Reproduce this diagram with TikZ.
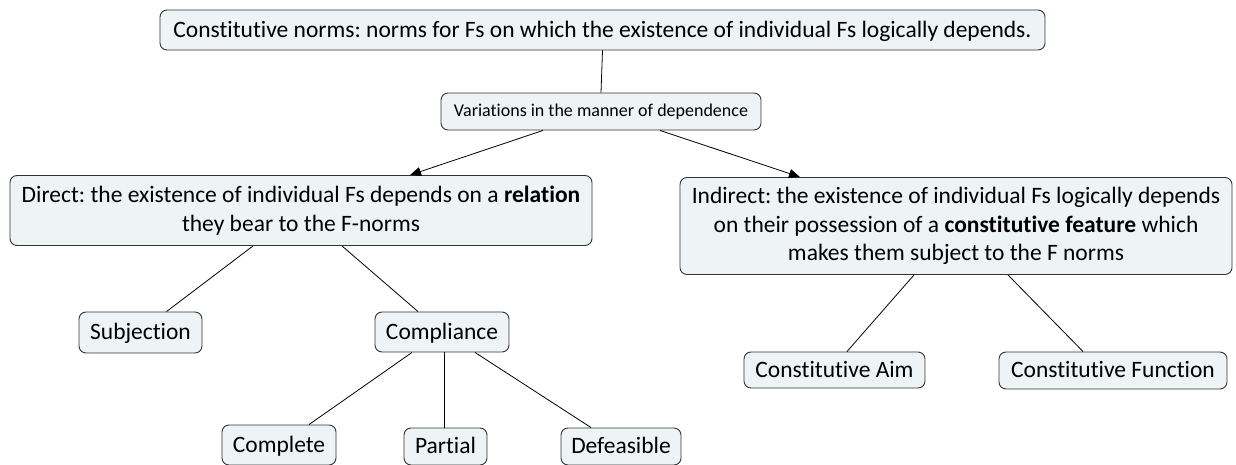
\documentclass[tikz,border=0pt]{standalone}
\usepackage{fontspec}
\setmainfont{Carlito}[RawFeature={-liga}]
\frenchspacing
\usetikzlibrary{calc,arrows.meta}
\definecolor{boxfill}{HTML}{EEF3F5}
\definecolor{boxline}{HTML}{333333}
\tikzset{
  box/.style={draw=boxline, fill=boxfill, rounded corners=7pt, line width=0.9pt, align=center, inner sep=0pt, font=\fontsize{23.5}{28.5}\selectfont},
  one/.style={text height=17.6pt, text depth=3pt},
  small/.style={font=\fontsize{18}{21}\selectfont, text height=13.5pt, text depth=3.5pt},
  link/.style={draw=black, line width=0.8pt},
  arr/.style={link, -{Triangle[length=11pt,width=9pt]}},
}
\begin{document}
\frenchspacing
\begin{tikzpicture}[x=1pt,y=-1pt]
\useasboundingbox (0,0) rectangle (1236,465);
\node[box, one, minimum width=885, minimum height=40] (top) at (602.5,30) {Constitutive norms: norms for Fs on which the existence of individual Fs logically depends.};
\node[box, small, minimum width=320, minimum height=37] (var) at (601,111.5) {Variations in the manner of dependence};
\node[box, minimum width=582, minimum height=70] (dir) at (301,210.5) {Direct: the existence of individual Fs depends on a \textbf{relation}\\ they bear to the F-norms};
\node[box, minimum width=552, minimum height=97] (ind) at (956,226) {Indirect: the existence of individual Fs logically depends\\ on their possession of a \textbf{constitutive feature} which\\ makes them subject to the F norms};
\node[box, one, minimum width=123, minimum height=41] (subj) at (140.5,332.5) {Subjection};
\node[box, one, minimum width=134, minimum height=40] (comp) at (442,332) {Compliance};
\node[box, one, minimum width=114, minimum height=40] (cplt) at (279,445) {Complete};
\node[box, one, minimum width=83, minimum height=37] (part) at (445.5,446.5) {Partial};
\node[box, one, minimum width=120, minimum height=37] (defe) at (621,446.5) {Defeasible};
\node[box, one, minimum width=181, minimum height=36] (aim) at (834.5,370) {Constitutive Aim};
\node[box, one, minimum width=228, minimum height=37] (fun) at (1113,370.5) {Constitutive Function};
\draw[link] (top.south) -- (var.north);
\draw[arr] ([xshift=-58]var.south) -- ([xshift=109]dir.north);
\draw[arr] ([xshift=59]var.south) -- ([xshift=-156]ind.north);
\draw[link] ([xshift=-48]dir.south) -- ([xshift=26]subj.north);
\draw[link] ([xshift=41]dir.south) -- ([xshift=-24]comp.north);
\draw[link] ([xshift=-30]comp.south) -- ([xshift=30]cplt.north);
\draw[link] ([xshift=2]comp.south) -- ([xshift=-1.5]part.north);
\draw[link] ([xshift=33]comp.south) -- ([xshift=-30]defe.north);
\draw[link] ([xshift=-42]ind.south) -- ([xshift=12.5]aim.north);
\draw[link] ([xshift=52]ind.south) -- ([xshift=-30]fun.north);
\end{tikzpicture}
\end{document}
